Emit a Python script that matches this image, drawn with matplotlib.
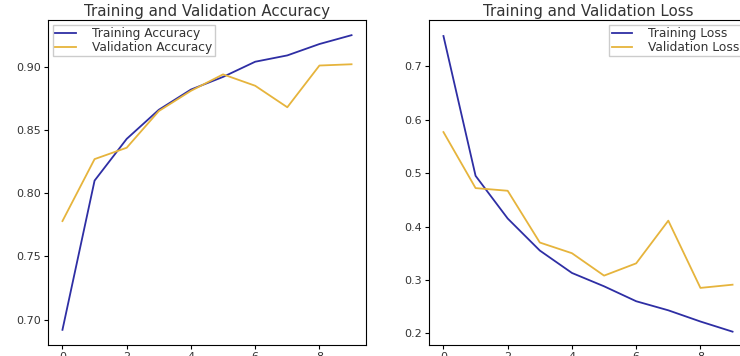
import matplotlib
matplotlib.use("Agg")
import matplotlib.pyplot as plt

epochs = list(range(10))
train_acc = [0.692, 0.810, 0.843, 0.866, 0.882, 0.892, 0.904, 0.909, 0.918, 0.925]
val_acc = [0.778, 0.827, 0.836, 0.865, 0.881, 0.894, 0.885, 0.868, 0.901, 0.902]
train_loss = [0.757, 0.495, 0.415, 0.355, 0.313, 0.288, 0.260, 0.243, 0.222, 0.203]
val_loss = [0.577, 0.472, 0.467, 0.370, 0.350, 0.308, 0.331, 0.411, 0.285, 0.291]

W, H = 740, 356
fig = plt.figure(figsize=(W / 100, H / 100), dpi=100)
blue = "#2e2ea4"
gold = "#e6b43c"
txt = "#333333"

ax1 = fig.add_axes([48 / W, 1 - 345 / H, (366 - 48) / W, (345 - 20) / H])
ax1.plot(epochs, train_acc, color=blue, lw=1.3, label="Training Accuracy")
ax1.plot(epochs, val_acc, color=gold, lw=1.3, label="Validation Accuracy")
ax1.set_title("Training and Validation Accuracy", fontsize=10.8, pad=3, color=txt)
ax1.legend(loc="upper left", fontsize=8.8, borderpad=0.2, labelspacing=0.05,
           handlelength=1.7, handletextpad=1.3, borderaxespad=0.4,
           fancybox=False, framealpha=1, labelcolor=txt)
ax1.set_ylim(0.680, 0.937)
ax1.set_xlim(-0.45, 9.45)
ax1.set_xticks([0, 2, 4, 6, 8])

ax2 = fig.add_axes([429 / W, 1 - 345 / H, (366 - 48) / W, (345 - 20) / H])
ax2.plot(epochs, train_loss, color=blue, lw=1.3, label="Training Loss")
ax2.plot(epochs, val_loss, color=gold, lw=1.3, label="Validation Loss")
ax2.set_title("Training and Validation Loss", fontsize=10.8, pad=3, color=txt)
ax2.legend(loc="upper right", fontsize=8.8, borderpad=0.2, labelspacing=0.05,
           handlelength=1.7, handletextpad=1.3, borderaxespad=0.4,
           fancybox=False, framealpha=1, labelcolor=txt)
ax2.set_ylim(0.178, 0.787)
ax2.set_xlim(-0.45, 9.45)
ax2.set_xticks([0, 2, 4, 6, 8])

for ax in (ax1, ax2):
    ax.tick_params(labelsize=8, length=3, pad=2, labelcolor=txt)

fig.savefig("out.png", dpi=100)
